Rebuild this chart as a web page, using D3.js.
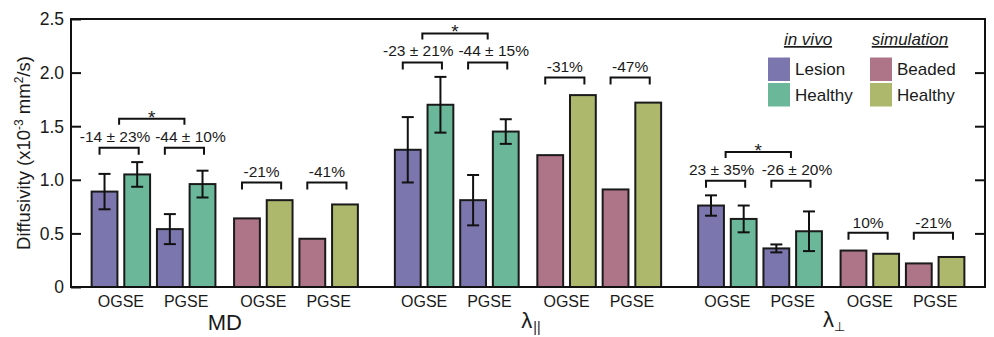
<!DOCTYPE html>
<html>
<head>
<meta charset="utf-8">
<script src="https://cdn.jsdelivr.net/npm/d3@7"></script>
<style>
	body { margin: 0; background: #fff; }
	text { font-family: 'Liberation Sans', Arial, sans-serif; fill: #1a1a1a; }
</style>
</head>
<body>
<div id="chart"></div>
<script>
// groups: MD, lambda parallel, lambda perpendicular ; each has OGSE then PGSE
var groups = ['MD', 'par', 'perp'];
var sources = ['in vivo', 'simulation'];
var sequences = ['OGSE', 'PGSE'];

// values in x10^-3 mm2/s, order: MD OGSE, MD PGSE, par OGSE, par PGSE, perp OGSE, perp PGSE
var vivoLesion = [0.89, 0.54, 1.28, 0.81, 0.76, 0.36];
var vivoLesionErr = [0.165, 0.14, 0.305, 0.235, 0.095, 0.037];
var vivoHealthy = [1.05, 0.96, 1.70, 1.45, 0.635, 0.52];
var vivoHealthyErr = [0.115, 0.125, 0.26, 0.115, 0.125, 0.185];
var simBeaded = [0.64, 0.45, 1.23, 0.91, 0.34, 0.22];
var simHealthy = [0.81, 0.77, 1.79, 1.72, 0.31, 0.28];

var vivoChange = ['-14 ± 23%', '-44 ± 10%', '-23 ± 21%', '-44 ± 15%', '23 ± 35%', '-26 ± 20%'];
var simChange = ['-21%', '-41%', '-31%', '-47%', '10%', '-21%'];

var yTicks = [0, 0.5, 1.0, 1.5, 2.0, 2.5];
var yTickLabels = ['0', '0.5', '1.0', '1.5', '2.0', '2.5'];

var colors = {
	lesion: '#7b76ae',
	vivoHealthy: '#6bb799',
	beaded: '#ae7488',
	simHealthy: '#adb86d',
};

var width = 994,
	height = 337;
var pLeft = 71,
	pRight = 985,
	pTop = 19,
	pBottom = 287;

var svg = d3
	.select('#chart')
	.append('svg')
	.attr('width', width)
	.attr('height', height);

var y = d3.scaleLinear().domain([0, 2.5]).range([pBottom, pTop]);

var x0 = d3
	.scaleBand()
	.domain(groups)
	.range([pLeft, pRight])
	.paddingInner(0.122)
	.paddingOuter(0.068);

var x1 = d3
	.scaleBand()
	.domain(sources)
	.range([0, x0.bandwidth()])
	.paddingInner(0.131);

var x2 = d3
	.scaleBand()
	.domain([0, 1, 2, 3])
	.range([0, x1.bandwidth()])
	.paddingInner(0.21);

// build bar list
var bars = [];
groups.forEach(function(g, gi) {
	sequences.forEach(function(s, si) {
		var k = gi * 2 + si;
		bars.push({ g: g, src: 'in vivo', slot: si * 2, v: vivoLesion[k], e: vivoLesionErr[k], c: colors.lesion });
		bars.push({ g: g, src: 'in vivo', slot: si * 2 + 1, v: vivoHealthy[k], e: vivoHealthyErr[k], c: colors.vivoHealthy });
		bars.push({ g: g, src: 'simulation', slot: si * 2, v: simBeaded[k], e: 0, c: colors.beaded });
		bars.push({ g: g, src: 'simulation', slot: si * 2 + 1, v: simHealthy[k], e: 0, c: colors.simHealthy });
	});
});

function barX(d) {
	return x0(d.g) + x1(d.src) + x2(d.slot);
}
function slotCenter(g, src, slot) {
	return x0(g) + x1(src) + x2(slot) + x2.bandwidth() / 2;
}

// bars
svg.selectAll('.bar')
	.data(bars)
	.enter()
	.append('rect')
	.attr('class', 'bar')
	.attr('x', barX)
	.attr('y', function(d) {
		return y(d.v);
	})
	.attr('width', x2.bandwidth())
	.attr('height', function(d) {
		return y(0) - y(d.v);
	})
	.attr('fill', function(d) {
		return d.c;
	})
	.attr('stroke', '#1a1a1a')
	.attr('stroke-width', 2);

// error bars
var errs = svg
	.selectAll('.err')
	.data(bars.filter(function(d) {
		return d.e > 0;
	}))
	.enter()
	.append('g')
	.attr('class', 'err')
	.attr('stroke', '#111')
	.attr('stroke-width', 2);

errs.append('line')
	.attr('x1', function(d) { return barX(d) + x2.bandwidth() / 2; })
	.attr('x2', function(d) { return barX(d) + x2.bandwidth() / 2; })
	.attr('y1', function(d) { return y(d.v - d.e); })
	.attr('y2', function(d) { return y(d.v + d.e); });
[-1, 1].forEach(function(sgn) {
	errs.append('line')
		.attr('x1', function(d) { return barX(d) + x2.bandwidth() / 2 - 6; })
		.attr('x2', function(d) { return barX(d) + x2.bandwidth() / 2 + 6; })
		.attr('y1', function(d) { return y(d.v + sgn * d.e); })
		.attr('y2', function(d) { return y(d.v + sgn * d.e); });
});

// frame + axes
svg.append('rect')
	.attr('x', pLeft)
	.attr('y', pTop)
	.attr('width', pRight - pLeft)
	.attr('height', pBottom - pTop)
	.attr('fill', 'none')
	.attr('stroke', '#111')
	.attr('stroke-width', 2);

var yAxisL = d3
	.axisRight(y)
	.tickValues(yTicks)
	.tickSize(10)
	.tickFormat('');
svg.append('g')
	.attr('transform', 'translate(' + pLeft + ',0)')
	.call(yAxisL)
	.call(function(g) {
		g.select('.domain').remove();
		g.selectAll('line').attr('stroke', '#111').attr('stroke-width', 2);
	});

var yAxisR = d3
	.axisLeft(y)
	.tickValues(yTicks.slice(1, -1))
	.tickSize(10)
	.tickFormat('');
svg.append('g')
	.attr('transform', 'translate(' + pRight + ',0)')
	.call(yAxisR)
	.call(function(g) {
		g.select('.domain').remove();
		g.selectAll('line').attr('stroke', '#111').attr('stroke-width', 2);
	});

svg.selectAll('.ytl')
	.data(yTicks)
	.enter()
	.append('text')
	.attr('class', 'ytl')
	.attr('x', pLeft - 7)
	.attr('y', function(d) {
		return y(d);
	})
	.attr('dy', '0.36em')
	.attr('text-anchor', 'end')
	.attr('font-size', 17.5)
	.text(function(d, i) {
		return yTickLabels[i];
	});

// y title
var yt = svg
	.append('text')
	.attr('transform', 'translate(30,' + (pTop + pBottom) / 2 + ') rotate(-90)')
	.attr('text-anchor', 'middle')
	.attr('font-size', 18.5);
yt.append('tspan').text('Diffusivity (x10');
yt.append('tspan').attr('font-size', 12).attr('dy', -7).text('-3');
yt.append('tspan').attr('dy', 7).text(' mm');
yt.append('tspan').attr('font-size', 12).attr('dy', -7).text('2');
yt.append('tspan').attr('dy', 7).text('/s)');

// sequence labels
var seqLabels = [];
groups.forEach(function(g) {
	sources.forEach(function(src) {
		sequences.forEach(function(s, si) {
			seqLabels.push({ g: g, src: src, s: s, si: si });
		});
	});
});
svg.selectAll('.seq')
	.data(seqLabels)
	.enter()
	.append('text')
	.attr('class', 'seq')
	.attr('x', function(d) {
		return (slotCenter(d.g, d.src, d.si * 2) + slotCenter(d.g, d.src, d.si * 2 + 1)) / 2;
	})
	.attr('y', 307)
	.attr('text-anchor', 'middle')
	.attr('font-size', 16)
	.text(function(d) {
		return d.s;
	});

// group labels
function groupCenter(g) {
	return x0(g) + x0.bandwidth() / 2;
}
svg.append('text')
	.attr('x', groupCenter('MD'))
	.attr('y', 330)
	.attr('text-anchor', 'middle')
	.attr('font-size', 22)
	.text('MD');

var lp = svg
	.append('text')
	.attr('x', groupCenter('par') + 3)
	.attr('y', 328)
	.attr('text-anchor', 'middle')
	.attr('font-size', 22)
	.attr('opacity', 0.999);
lp.append('tspan').text('λ');
lp.append('tspan').attr('font-size', 14).attr('dy', 4).attr('dx', 1).text('||');

var ln = svg
	.append('text')
	.attr('x', groupCenter('perp') + 3)
	.attr('y', 327)
	.attr('text-anchor', 'middle')
	.attr('font-size', 22);
ln.append('tspan').text('λ');
ln.append('tspan')
	.attr('font-size', 13)
	.attr('dy', 4)
	.style('font-family', "'DejaVu Sans', sans-serif")
	.text('⊥');

// brackets
function bracket(x1p, x2p, yp, drop) {
	svg.append('path')
		.attr('d', 'M' + x1p + ',' + (yp + drop) + 'V' + yp + 'H' + x2p + 'V' + (yp + drop))
		.attr('fill', 'none')
		.attr('stroke', '#111')
		.attr('stroke-width', 2);
}

groups.forEach(function(g, gi) {
	var k0 = gi * 2,
		k1 = gi * 2 + 1;
	var vivoTop = d3.max([
		vivoLesion[k0] + vivoLesionErr[k0],
		vivoHealthy[k0] + vivoHealthyErr[k0],
		vivoLesion[k1] + vivoLesionErr[k1],
		vivoHealthy[k1] + vivoHealthyErr[k1],
	]);
	var simTop = d3.max([simBeaded[k0], simHealthy[k0], simBeaded[k1], simHealthy[k1]]);
	var vivoY = y(vivoTop + 0.135);
	var simY = y(simTop + 0.165);
	var starY = y(vivoTop + 0.135 + 0.27);
	var mids = [];

	sequences.forEach(function(s, si) {
		var a = slotCenter(g, 'in vivo', si * 2) - 5;
		var b = slotCenter(g, 'in vivo', si * 2 + 1) + 1.5;
		bracket(a, b, vivoY, 7);
		mids.push((a + b) / 2);
		svg.append('text')
			.attr('x', (a + b) / 2 + (si === 0 ? -4 : 6))
			.attr('y', vivoY - 6)
			.attr('text-anchor', 'middle')
			.attr('font-size', 15.5)
			.text(vivoChange[gi * 2 + si]);

		var c = slotCenter(g, 'simulation', si * 2) - 5;
		var d = slotCenter(g, 'simulation', si * 2 + 1) + 1.5;
		bracket(c, d, simY, 7);
		svg.append('text')
			.attr('x', (c + d) / 2)
			.attr('y', simY - 5)
			.attr('text-anchor', 'middle')
			.attr('font-size', 15.5)
			.text(simChange[gi * 2 + si]);
	});

	bracket(mids[0], mids[1], starY, 6);
	svg.append('text')
		.attr('x', (mids[0] + mids[1]) / 2)
		.attr('y', starY + 5)
		.attr('text-anchor', 'middle')
		.attr('font-size', 19)
		.text('*');
});

// legend
var legendCols = [
	{ title: 'in vivo', x: 768, items: [['Lesion', colors.lesion], ['Healthy', colors.vivoHealthy]] },
	{ title: 'simulation', x: 870, items: [['Beaded', colors.beaded], ['Healthy', colors.simHealthy]] },
];
legendCols.forEach(function(col) {
	svg.append('text')
		.attr('x', col.x + 40)
		.attr('y', 45)
		.attr('text-anchor', 'middle')
		.attr('font-size', 17)
		.attr('font-style', 'italic')
		.attr('text-decoration', 'underline')
		.text(col.title);
	col.items.forEach(function(it, i) {
		svg.append('rect')
			.attr('x', col.x)
			.attr('y', 57.5 + i * 25.5)
			.attr('width', 22)
			.attr('height', 23.5)
			.attr('fill', it[1]);
		svg.append('text')
			.attr('x', col.x + 27)
			.attr('y', 75 + i * 25.5)
			.attr('font-size', 17)
			.text(it[0]);
	});
});
</script>
</body>
</html>
